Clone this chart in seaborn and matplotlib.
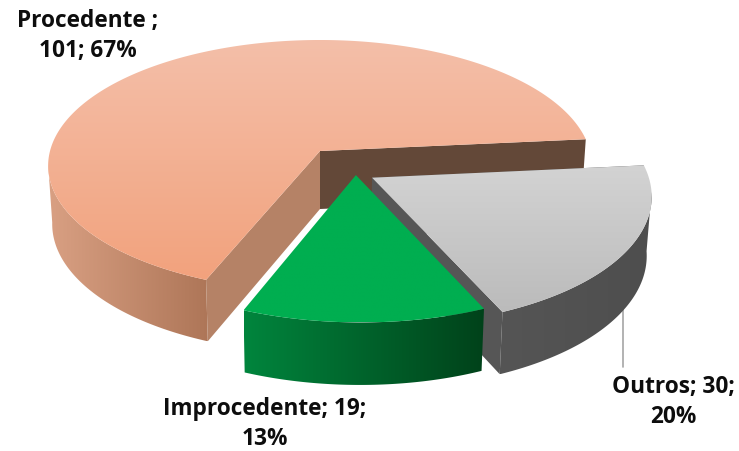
import numpy as np
import matplotlib
matplotlib.use("Agg")
import matplotlib.pyplot as plt
from matplotlib.patches import Polygon
import seaborn as sns

# data
categories = ["Procedente", "Improcedente", "Outros"]
values = [101, 19, 30]

# look of the slices
top_colors = [["#F4BFA9", "#F2A27D"], ["#00AE50", "#00AE50"], ["#D3D3D3", "#BBBBBB"]]
side_colors = [["#D9A083", "#AE7658"], ["#00853D", "#00421A"], ["#555555", "#4E4E4E"]]
cut_colors = ["#B58266", None, "#565656"]
back_wall = "#634838"
explode = [(0.0, 0.0), (0.13, -0.19), (0.188, -0.21)]

sns.set_theme(style="white")
plt.rcParams["font.family"] = ["Open Sans", "DejaVu Sans"]

# fake 3D view of the pie, y of the axes runs down like in pixels
cx, cy = 320, 151
rx, ry = 270, 124
persp = 0.117
depth = 58
start = 5.5
wall_from, wall_to = 186, 354


def project(u, v, z=0):
    p = 1 / (1 + persp * v)
    x = cx + rx * u * p * (1 - 0.015 * z)
    y = cy - ry * v * p + z * depth * np.sqrt(p)
    return x, y


fig, ax = plt.subplots(figsize=(7.39, 4.51), dpi=100)
fig.subplots_adjust(0, 0, 1, 1)
ax.axis("off")

total = sum(values)
sweeps = [v / total * 360 for v in values]
edges = start + np.cumsum([0] + sweeps)


def gradient_fill(outline, colors, z, horizontal=False):
    # polygon filled with a blend of two colours, through a clipped image
    patch = Polygon(outline, fc="none", ec="none")
    ax.add_patch(patch)
    cmap = sns.blend_palette(colors, 64, as_cmap=True)
    grad = np.linspace(0, 1, 256)
    grad = grad.reshape(1, -1) if horizontal else grad.reshape(-1, 1)
    im = ax.imshow(grad, cmap=cmap, aspect="auto", zorder=z, interpolation="bilinear",
                   extent=(outline[:, 0].min(), outline[:, 0].max(), outline[:, 1].max(), outline[:, 1].min()))
    im.set_clip_path(patch)


def draw_slice(i, z):
    t = np.radians(np.linspace(edges[i], edges[i + 1], 240))
    ou, ov = explode[i]
    u, v = ou + np.cos(t), ov + np.sin(t)
    xt, yt = project(u, v)
    xb, yb = project(u, v, 1)
    ax_, ay_ = project(ou, ov)
    bx_, by_ = project(ou, ov, 1)

    # outer wall, only the part facing us
    front = (t >= np.radians(wall_from)) & (t <= np.radians(wall_to))
    wall = np.column_stack([np.r_[xt[front], xb[front][::-1]], np.r_[yt[front], yb[front][::-1]]])
    gradient_fill(wall, side_colors[i], z, horizontal=True)

    # the two cut faces, the green ones are hidden
    if cut_colors[i]:
        ax.add_patch(Polygon([(ax_, ay_), (xt[0], yt[0]), (xb[0], yb[0]), (bx_, by_)],
                             fc=back_wall if i == 0 else cut_colors[i], ec="none", zorder=z + 1))
        ax.add_patch(Polygon([(ax_, ay_), (xt[-1], yt[-1]), (xb[-1], yb[-1]), (bx_, by_)],
                             fc=cut_colors[i], ec="none", zorder=z + 1))

    # top with vertical gradient
    outline = np.column_stack([np.r_[ax_, xt], np.r_[ay_, yt]])
    gradient_fill(outline, top_colors[i], z + 2)


# salmon at the back, then grey, green in front
for z, i in enumerate([0, 2, 1]):
    draw_slice(i, z * 10 + 1)
ax.set_xlim(0, 739)
ax.set_ylim(451, 0)

# leader line of Outros
ax.plot([623, 623], [306, 367], color="#A6A6A6", lw=1.2, zorder=5)

pct = [round(v / total * 100) for v in values]
labels = [f"{categories[0]} ;\n{values[0]}; {pct[0]}%",
          f"{categories[1]}; {values[1]};\n{pct[1]}%",
          f"{categories[2]}; {values[2]};\n{pct[2]}%"]
label_pos = [(88, 36), (265, 424), (673, 402)]
for lab, (lx, ly) in zip(labels, label_pos):
    ax.text(lx, ly, lab, ha="center", va="center", fontsize=16.3, fontweight="bold",
            color="#0D0D0D", linespacing=1.38, zorder=60)

fig.savefig("out.png", dpi=100)
